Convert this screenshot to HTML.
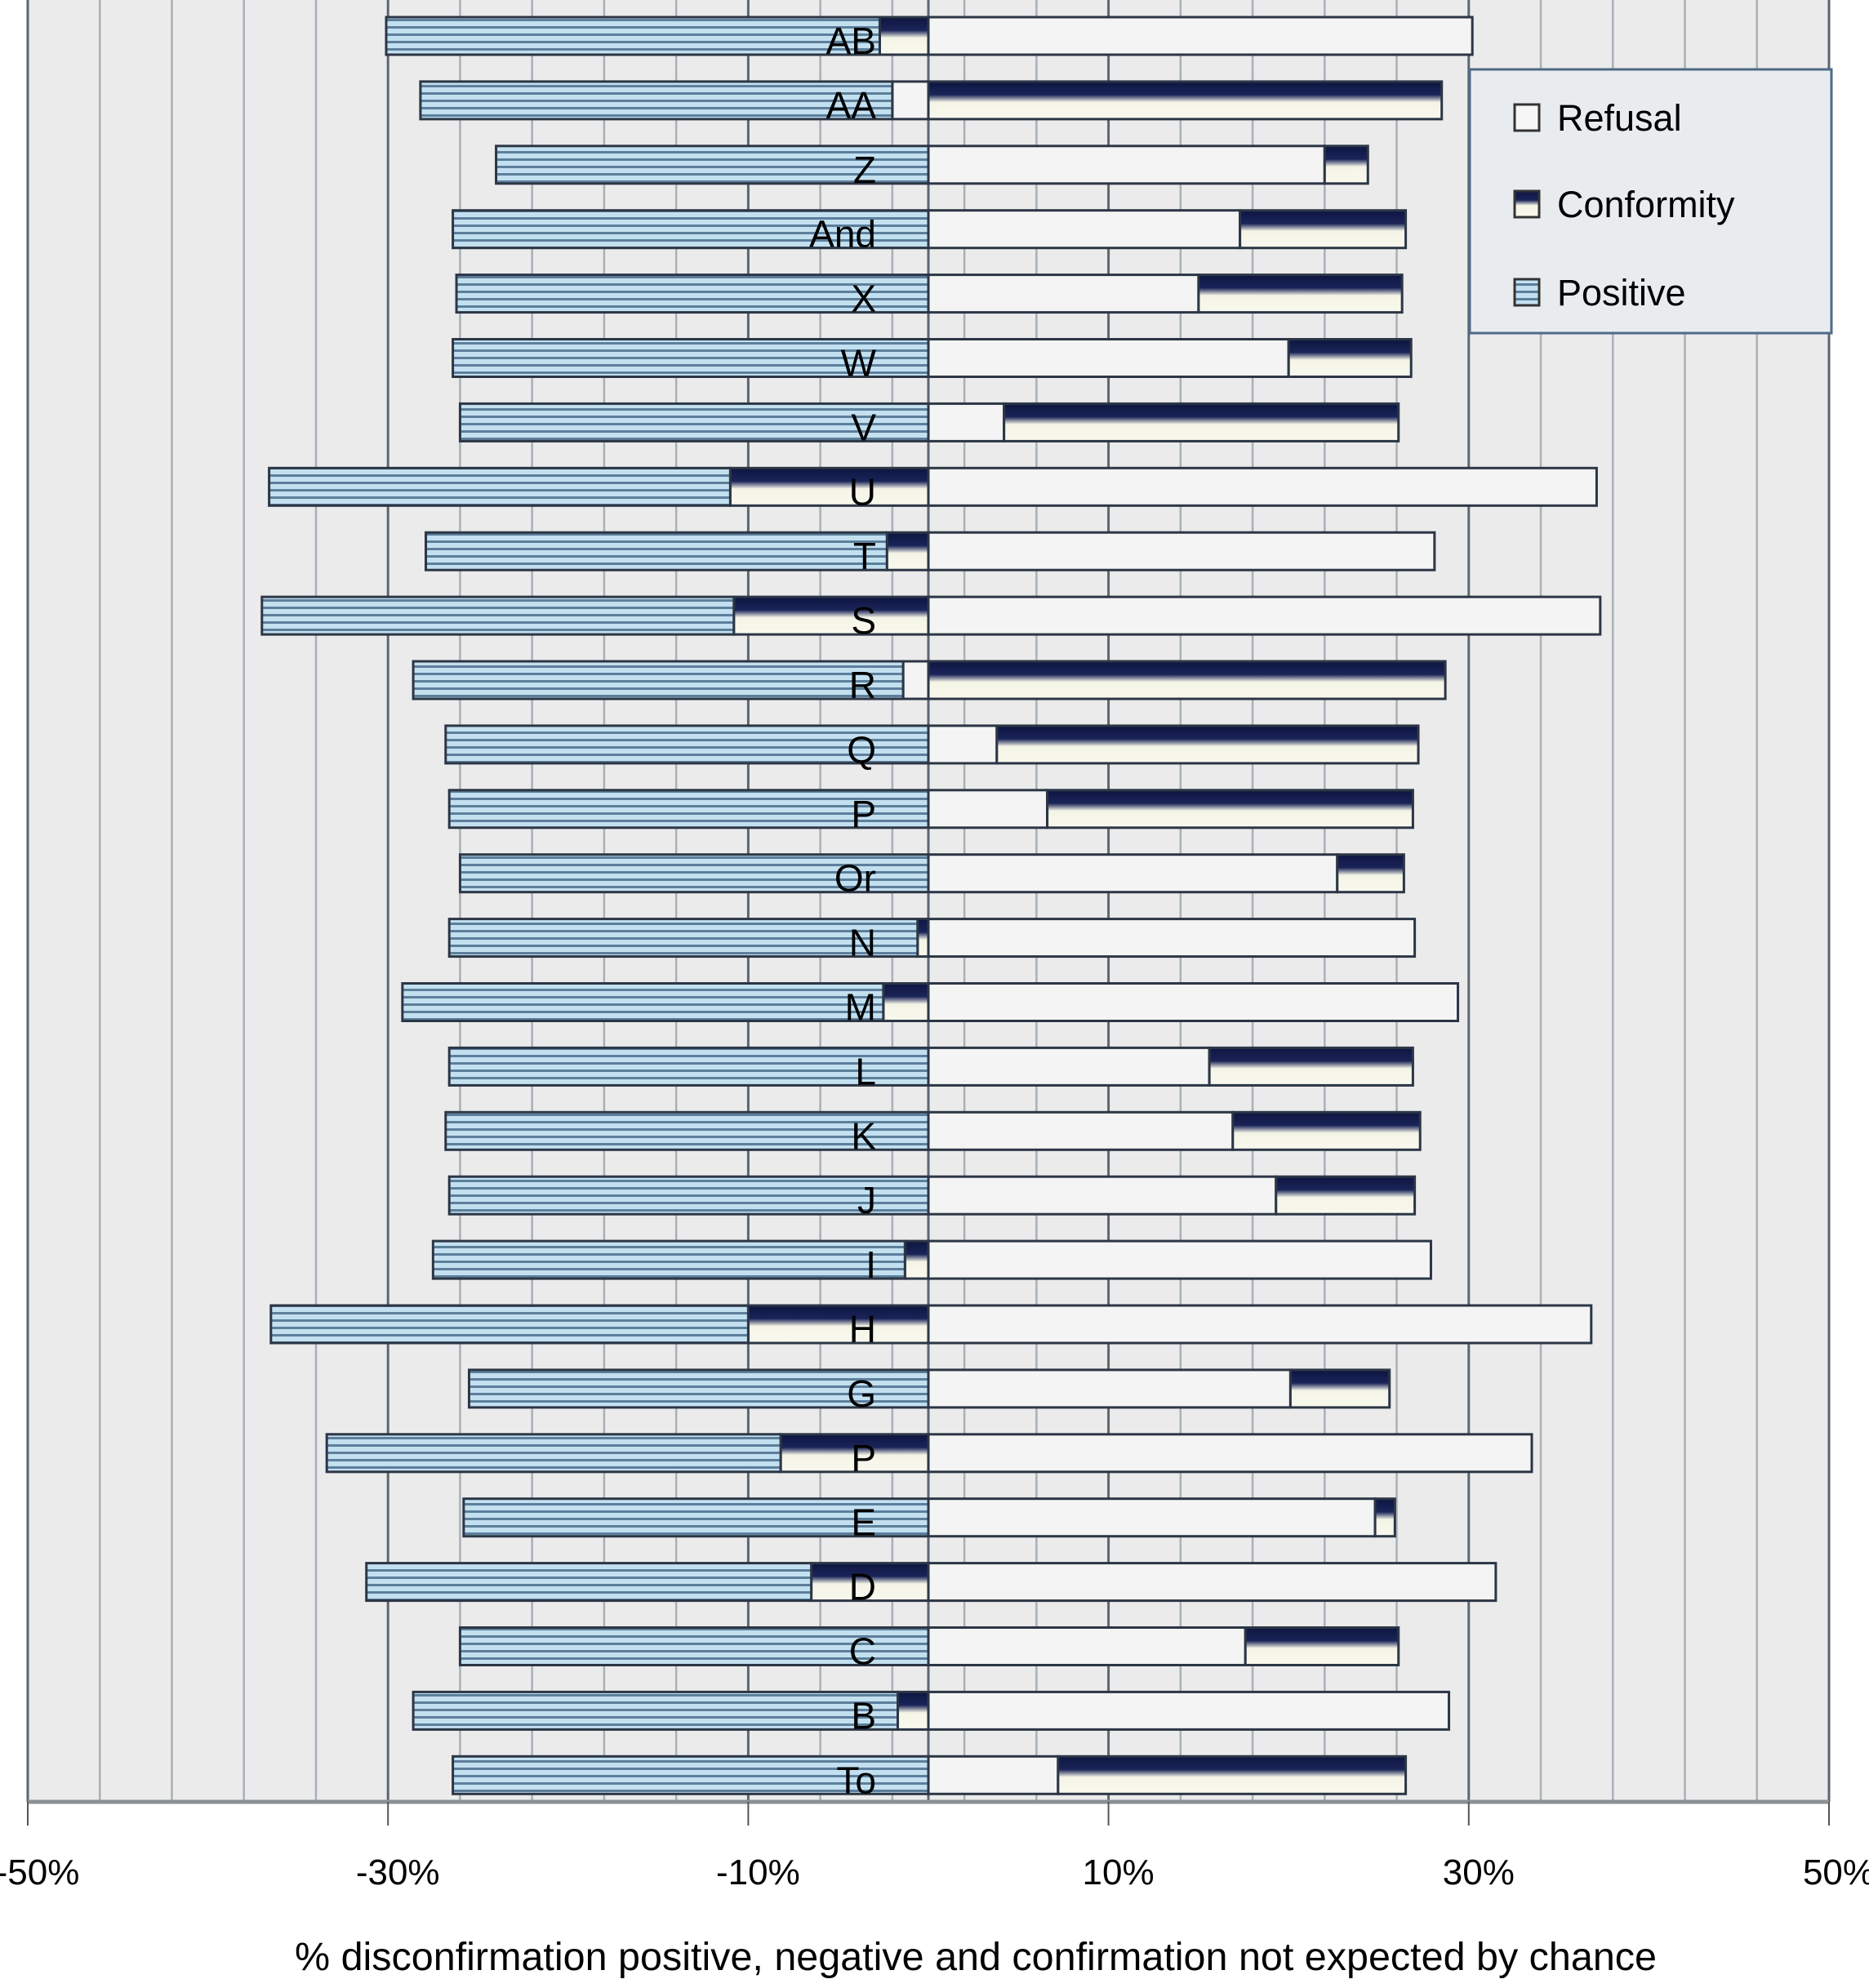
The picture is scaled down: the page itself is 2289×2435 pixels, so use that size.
<!DOCTYPE html>
<html><head><meta charset="utf-8"><style>
html,body{margin:0;padding:0;background:#fff;}
svg{display:block;font-family:"Liberation Sans",sans-serif;}
</style></head><body>
<svg id="chart" width="2289" height="2435" viewBox="0 0 2289 2435" xmlns="http://www.w3.org/2000/svg">
<defs>
<pattern id="pos" patternUnits="userSpaceOnUse" width="20" height="9"><rect width="20" height="9" fill="#c3e0f0"/><rect y="5" width="20" height="3" fill="#5d7f9c"/></pattern>
<linearGradient id="conf" x1="0" y1="0" x2="0" y2="1"><stop offset="0" stop-color="#0d1540"/><stop offset="0.35" stop-color="#1a2458"/><stop offset="0.55" stop-color="#f4f4e6"/><stop offset="1" stop-color="#f8f8ee"/></linearGradient>
</defs>
<rect x="34" y="0" width="2206" height="2207" fill="#ebebeb"/>
<g id="grid"></g><g id="bars"></g><g id="labels"></g><g id="axis"></g>
<g>
<rect x="1800" y="85" width="443" height="323" fill="#e9ecee" stroke="#4f6a88" stroke-width="3"/>
<rect x="1855" y="128" width="30" height="32" fill="#f6f6f6" stroke="#333" stroke-width="3"/>
<text x="1907" y="160" font-size="45">Refusal</text>
<rect x="1855" y="234" width="30" height="32" fill="url(#conf)" stroke="#333" stroke-width="3"/>
<text x="1907" y="266" font-size="45">Conformity</text>
<rect x="1855" y="342" width="30" height="32" fill="url(#pos)" stroke="#333" stroke-width="3"/>
<text x="1907" y="374" font-size="45">Positive</text>
</g>
<text x="1195" y="2413" font-size="48" text-anchor="middle" textLength="1668" lengthAdjust="spacingAndGlyphs">% disconfirmation positive, negative and confirmation not expected by chance</text>
</svg>
<script>
const categories=["AB","AA","Z","And","X","W","V","U","T","S","R","Q","P","Or","N","M","L","K","J","I","H","G","P","E","D","C","B","To"];
const refusal=[30.2,-2.0,22.0,17.3,15.0,20.0,4.2,37.1,28.1,37.3,-1.4,3.8,6.6,22.7,27.0,29.4,15.6,16.9,19.3,27.9,36.8,20.1,33.5,24.8,31.5,17.6,28.9,7.2];
const conformity=[-2.7,28.5,2.4,9.2,11.3,6.8,21.9,-11.0,-2.3,-10.8,28.7,23.4,20.3,3.7,-0.6,-2.5,11.3,10.4,7.7,-1.3,-10.0,5.5,-8.2,1.1,-6.5,8.5,-1.7,19.3];
const positive=[-27.4,-26.2,-24.0,-26.4,-26.2,-26.4,-26.0,-25.6,-25.6,-26.2,-27.2,-26.8,-26.6,-26.0,-26.0,-26.7,-26.6,-26.8,-26.6,-26.2,-26.5,-25.5,-25.2,-25.8,-24.7,-26.0,-26.9,-26.4];
const tickValues=[-50,-30,-10,10,30,50];
const tickLabels=["-50%","-30%","-10%","10%","30%","50%"];
const NS="http://www.w3.org/2000/svg";
const X0=34,X1=2240,PB=2207;
const x=v=>X0+(v+50)/100*(X1-X0);
const y=i=>44+i*78.9;
const BH=46;
function mk(tag,attrs,parent){const e=document.createElementNS(NS,tag);for(const k in attrs)e.setAttribute(k,attrs[k]);parent.appendChild(e);return e;}
const grid=document.getElementById('grid');
for(let v=-50;v<=50;v+=4){
  const major=tickValues.includes(v);
  const l=mk('line',{x1:x(v),x2:x(v),y1:0,y2:PB,stroke:major?'#5c6670':'#a9b0b8','stroke-width':major?3:2.5},grid);
  
  
}
const zl=mk('line',{x1:x(0),x2:x(0),y1:0,y2:PB,stroke:'#5c6670','stroke-width':3},grid);


const bars=document.getElementById('bars');
const fills={refusal:'#f4f4f4',conformity:'url(#conf)',positive:'url(#pos)'};
categories.forEach((c,i)=>{
  let pos=0,neg=0;
  [['refusal',refusal[i]],['conformity',conformity[i]],['positive',positive[i]]].forEach(([s,v])=>{
    let a,b;
    if(v>=0){a=pos;b=pos+v;pos=b;}else{a=neg+v;b=neg;neg=a;}
    const r=mk('rect',{x:x(a),y:y(i)-BH/2,width:Math.max(0,x(b)-x(a)),height:BH,fill:fills[s],stroke:'#2c3645','stroke-width':3},bars);
    
    
  });
});
const labels=document.getElementById('labels');
categories.forEach((c,i)=>{
  const t=mk('text',{x:1073,y:y(i)+22,'font-size':46,'text-anchor':'end',fill:'#000'},labels);
  t.textContent=c;
  
  
});
const axis=document.getElementById('axis');
const al=mk('line',{x1:X0,x2:X1,y1:PB,y2:PB,stroke:'#8a9096','stroke-width':5},axis);


tickValues.forEach((v,k)=>{
  const tk=mk('line',{x1:x(v),x2:x(v),y1:PB,y2:2236,stroke:'#555','stroke-width':2},axis);
  
  
  const t=mk('text',{x:x(v)+12,y:2308,'font-size':44,'text-anchor':'middle'},axis);
  t.textContent=tickLabels[k];
  
  
});
</script>
</body></html>
